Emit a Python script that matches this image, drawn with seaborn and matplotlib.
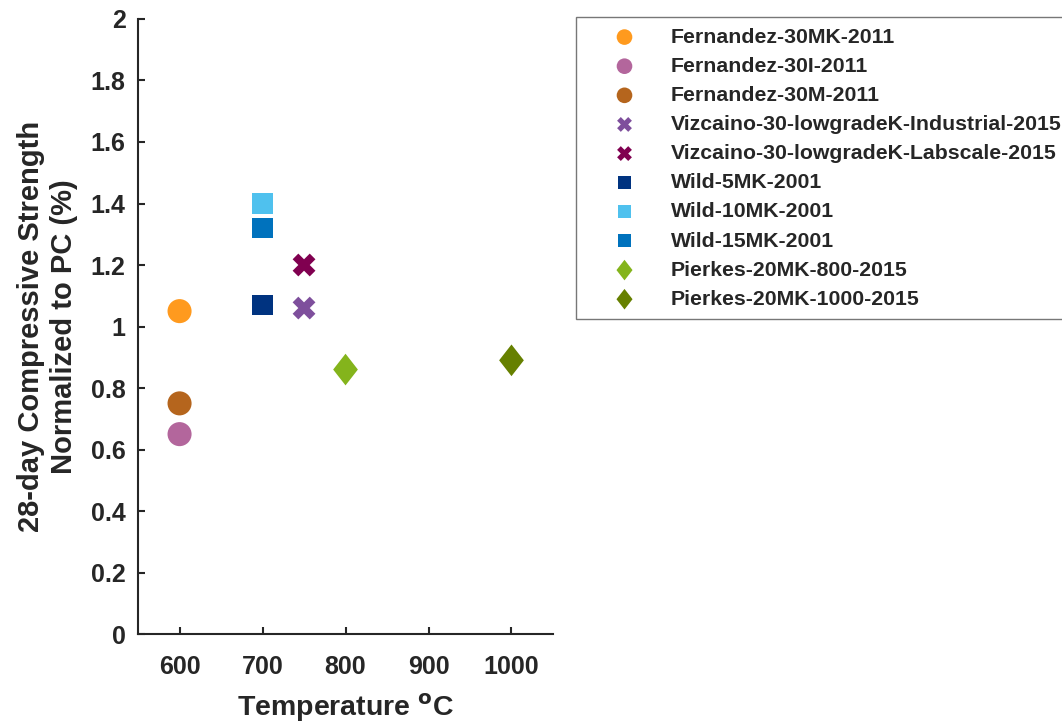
import matplotlib
matplotlib.use("Agg")
import matplotlib.pyplot as plt
import seaborn as sns
import pandas as pd

# Series names, calcination temperature (degC) and normalized 28-day strength
series = [
    "Fernandez-30MK-2011",
    "Fernandez-30I-2011",
    "Fernandez-30M-2011",
    "Vizcaino-30-lowgradeK-Industrial-2015",
    "Vizcaino-30-lowgradeK-Labscale-2015",
    "Wild-5MK-2001",
    "Wild-10MK-2001",
    "Wild-15MK-2001",
    "Pierkes-20MK-800-2015",
    "Pierkes-20MK-1000-2015",
]
temperature = [600, 600, 600, 750, 750, 700, 700, 700, 800, 1000]
strength = [1.05, 0.65, 0.75, 1.06, 1.20, 1.07, 1.40, 1.32, 0.86, 0.89]

x_ticks = [600, 700, 800, 900, 1000]
y_ticks = [0, 0.2, 0.4, 0.6, 0.8, 1, 1.2, 1.4, 1.6, 1.8, 2]
y_tick_labels = ["0", "0.2", "0.4", "0.6", "0.8", "1", "1.2", "1.4", "1.6", "1.8", "2"]

colors = ["#FF9A1E", "#B3669C", "#B5651D", "#7E4F9C", "#800050",
          "#003380", "#4FC1EE", "#0072BD", "#84B41C", "#668000"]

diamond = [(0, 1), (0.78, 0), (0, -1), (-0.78, 0), (0, 1)]
marker_style = {
    "o": dict(marker="o", s=300),
    "X": dict(marker="X", s=270),
    "s": dict(marker="s", s=210),
    "d": dict(marker=diamond, s=520),
}
kinds = ["o", "o", "o", "X", "X", "s", "s", "s", "d", "d"]

df = pd.DataFrame({"series": series, "temperature": temperature, "strength": strength})

sns.set_theme(style="white")
plt.rcParams["font.family"] = ["Liberation Sans", "DejaVu Sans"]

fig = plt.figure(figsize=(10.62, 7.25), dpi=100)
ax = fig.add_axes([0.13, 0.1255, 0.3907, 0.8483])

for name, col, kind in zip(series, colors, kinds):
    sub = df[df["series"] == name]
    sns.scatterplot(data=sub, x="temperature", y="strength", ax=ax,
                    color=col, edgecolor="none", linewidth=0, label=name,
                    **marker_style[kind])

ax.set_xlim(550, 1050)
ax.set_ylim(0, 2)
ax.set_xticks(x_ticks)
ax.set_yticks(y_ticks)
ax.set_yticklabels(y_tick_labels)
ax.tick_params(bottom=True, left=True, direction="in", length=5, width=1.5,
               color="#262626", labelsize=18, labelcolor="#262626")
ax.tick_params(axis="x", pad=15)
ax.tick_params(axis="y", pad=9)
for lbl in ax.get_xticklabels() + ax.get_yticklabels():
    lbl.set_fontweight("bold")

for side in ["top", "right"]:
    ax.spines[side].set_visible(False)
for side in ["left", "bottom"]:
    ax.spines[side].set_color("#262626")
    ax.spines[side].set_linewidth(1.5)

ax.set_xlabel("Temperature $^{\\mathbf{o}}$C", fontsize=20.5, fontweight="bold",
              color="#262626", labelpad=9)
ax.set_ylabel("28-day Compressive Strength\nNormalized to PC (%)", fontsize=21,
              fontweight="bold", color="#262626", labelpad=9, linespacing=1.25)

handles, labels = ax.get_legend_handles_labels()
ax.legend_.remove()
leg = fig.legend(handles, labels, loc="upper left",
                 bbox_to_anchor=(576 / 1062, 1 - 17 / 725),
                 frameon=True, fancybox=False, markerscale=0.65,
                 prop=dict(weight="bold", size=15.35), labelspacing=0.475,
                 handletextpad=0.4, borderpad=0.5, borderaxespad=0,
                 handlelength=3.55)
leg.get_frame().set_edgecolor("#555555")
leg.get_frame().set_linewidth(1.0)
for t in leg.get_texts():
    t.set_color("#262626")

fig.savefig("out.png", dpi=100)
